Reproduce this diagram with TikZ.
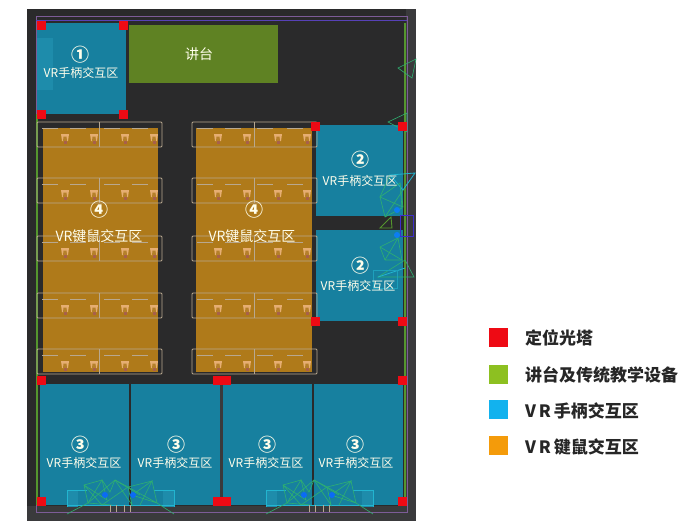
\documentclass[tikz,border=0pt]{standalone}
\usepackage{fontspec}
\setmainfont{Noto Sans CJK SC}
\begin{document}
\begin{tikzpicture}[
    x=1pt,y=-1pt,
    hall/.style={fill=hallgray},
    vrzone/.style={fill=zoneblue},
    kbzone/.style={fill=zoneorange},
    stagezone/.style={fill=stagegreen},
    tower/.style={fill=towerred},
    deskrow/.style={draw=deskline,rounded corners=1pt,line width=0.8pt},
    wire/.style={draw=wiregreen,line width=0.6pt},
    wirecyan/.style={draw=wirecyan,line width=0.8pt},
    numtext/.style={text=white!92!yellow,font=\bfseries\fontsize{18}{20}\selectfont,inner sep=0pt},
    zonetext/.style={text=white!92!yellow,font=\fontsize{12}{14}\selectfont,inner sep=0pt},
    bigtext/.style={text=white!92!yellow,font=\fontsize{14}{16}\selectfont,inner sep=0pt},
    legendtext/.style={anchor=west,text=black!85,font=\bfseries\fontsize{17}{20}\selectfont,inner sep=0pt},
    chair/.pic={
      \fill[chairtone] (-4,-5) -- (4,-5) -- (3,2) -- (-3,2) -- cycle;
      \fill[kbdark] (-1.5,-2.5) -- (1.5,-2.5) -- (2,2) -- (-2,2) -- cycle;
      \fill[chairred] (-1.5,2) rectangle (1.5,5);
    }]
    \definecolor{hallgray}{HTML}{2A2A2B}
    \definecolor{bandgray}{HTML}{3A3A3C}
    \definecolor{zoneblue}{HTML}{17809F}
    \definecolor{ghostblue}{HTML}{1E8CAB}
    \definecolor{zoneorange}{HTML}{AF7A1A}
    \definecolor{kbdark}{HTML}{B5802A}
    \definecolor{stagegreen}{HTML}{5F8223}
    \definecolor{towerred}{HTML}{EE0A14}
    \definecolor{deskline}{HTML}{B8A890}
    \definecolor{chairtone}{HTML}{E6AE72}
    \definecolor{chairred}{HTML}{A8604A}
    \definecolor{wiregreen}{HTML}{2FB070}
    \definecolor{wirecyan}{HTML}{22B5D0}
    \definecolor{outlinepurple}{HTML}{7D5C98}
    \definecolor{wallgreen}{HTML}{55962E}
    \definecolor{legendgreen}{HTML}{8DC021}
    \definecolor{legendblue}{HTML}{12B2EE}
    \definecolor{legendorange}{HTML}{F49B0A}
    \useasboundingbox (0,0) rectangle (700,530);
    % hall floor
    \fill[bandgray] (27,9) rectangle (416,521);
    \fill[hall] (27,9) rectangle (406,506);
    % outlines
    \draw[outlinepurple,line width=0.8pt] (36,16) rectangle (407,512);
    \draw[outlinepurple!70!blue,line width=0.8pt] (36,20) -- (407,20);
    % zones
    \fill[vrzone] (37,23) rectangle (126,114);
    \fill[ghostblue] (37,38) rectangle (53,90);
    \fill[stagezone] (129,25) rectangle (278,83);
    \fill[kbzone] (43,128) rectangle (158,372);
    \fill[kbzone] (196,128) rectangle (312,372);
    \fill[vrzone] (316,125) rectangle (403,216);
    \fill[vrzone] (316,230) rectangle (403,321);
    \fill[vrzone] (40,384) rectangle (129,505);
    \fill[vrzone] (131,384) rectangle (220,505);
    \fill[vrzone] (223,384) rectangle (312,505);
    \fill[vrzone] (314,384) rectangle (403,505);
    \fill[bandgray] (220,384) rectangle (223,505);
    % side walls
    \draw[wallgreen,line width=1.5pt] (37,114) -- (37,505);
    \draw[wallgreen,line width=2pt] (405,23) -- (405,505);
    % desk rows
    \foreach \rowtop in {122,178,236,293,349} {
      \draw[deskrow] (37,\rowtop) rectangle (162,\rowtop+25);
      \draw[deskrow] (99,\rowtop) -- (99,\rowtop+25);
      \draw[deskrow] (192,\rowtop) rectangle (317,\rowtop+25);
      \draw[deskrow] (254,\rowtop) -- (254,\rowtop+25);
      \foreach \chairx in {65,94,125,154,218,247,278,307}
        \pic at (\chairx,\rowtop+17) {chair};
      \foreach \deskx in {50,78,112,140,205,233,265,295}
        \draw[deskline,line width=1.2pt] (\deskx-8,\rowtop+6.5) -- (\deskx+8,\rowtop+6.5);
    }
    % cameras on the right wall
    \draw[wire] (416,59) -- (398,68) -- (412,78) -- cycle;
    \draw[wire] (407,113) -- (388,122) -- (407,132) -- cycle;
    \draw[wirecyan] (415,173) -- (390,175) -- (403,190) -- cycle;
    \draw[wire] (380,197) -- (400,183) -- (403,207) -- cycle;
    \draw[wire] (380,197) -- (385,217) -- (402,208) -- (400,183);
    \draw[wire] (390,175) -- (380,197) (403,190) -- (385,217);
    \draw[wallgreen,line width=0.9pt] (380,228) -- (391,217) -- (392,228) -- cycle;
    \draw[wire] (380,247) -- (398,238) -- (402,260) -- (385,260) -- cycle;
    \draw[wire] (380,247) -- (402,260) (398,238) -- (385,260);
    \draw[wire] (378,277) -- (405,260) -- (414,277) -- cycle;
    \draw[wirecyan] (378,277) -- (405,268);
    \draw[wirecyan!60!zoneblue,line width=0.5pt] (373,270) rectangle (397,288);
    \draw[outlinepurple!50!blue,line width=0.5pt] (400,215) rectangle (413,236);
    \fill[legendblue!70!blue] (397,210) circle (3);
    \fill[legendblue!70!blue] (397,235) circle (3);
    % cameras on the back wall
    \foreach \shiftx in {0,199} {
      \begin{scope}[xshift=\shiftx]
        \fill[ghostblue] (67,490) rectangle (78,507);
        \fill[ghostblue] (163,490) rectangle (174,507);
        \draw[wirecyan] (67,507) -- (67,490) -- (87,490);
        \draw[wirecyan] (174,507) -- (174,490) -- (154,490);
        \draw[wirecyan] (67,505) -- (174,505);
        \draw[wire] (67,514) -- (88,503) -- (84,485) -- (102,480) -- (110,492) -- (115,480) -- (128,487) -- (152,481) -- (157,503) -- (174,514);
        \draw[wire] (88,503) -- (115,480) -- (132,505) -- (128,487) -- (102,505) -- (84,485);
        \draw[wire] (84,485) -- (107,500) -- (102,480) -- (88,503);
        \draw[wire] (128,487) -- (157,503) -- (132,495) -- (152,481) -- (140,505);
        \draw[wire] (88,503) -- (112,505) (115,480) -- (140,495);
        \fill[legendblue!60!blue] (105,495) circle (3);
        \fill[legendblue!60!blue] (133,495) circle (3);
        \draw[deskline,line width=0.4pt] (110,505) -- (110,512) (116,505) -- (116,512) (124,505) -- (124,512) (130,505) -- (130,512);
      \end{scope}
    }
    % positioning towers
    \foreach \towerx/\towery in {41/25,123/25,41/114,123/114,315/126,402/126,315/321,402/321,41/380,217/380,226/380,402/380,41/501,217/501,226/501,402/501}
      \fill[tower] (\towerx-4.5,\towery-4.5) rectangle (\towerx+4.5,\towery+4.5);
    % labels
    \node[numtext] (numa) at (80,55) {①};
    \node[zonetext] (vra) at (81,73) {VR手柄交互区};
    \node[bigtext] (stage) at (199,54) {讲台};
    \node[numtext] (numb) at (360,160) {②};
    \node[zonetext] (vrb) at (360,181) {VR手柄交互区};
    \node[numtext] (numc) at (360,266) {②};
    \node[zonetext] (vrc) at (358,286) {VR手柄交互区};
    \node[numtext] (numd) at (80,445) {③};
    \node[zonetext] (vrd) at (84,463) {VR手柄交互区};
    \node[numtext] (nume) at (176,445) {③};
    \node[zonetext] (vre) at (175,463) {VR手柄交互区};
    \node[numtext] (numf) at (267,445) {③};
    \node[zonetext] (vrf) at (266,463) {VR手柄交互区};
    \node[numtext] (numg) at (355,445) {③};
    \node[zonetext] (vrg) at (356,463) {VR手柄交互区};
    \node[numtext] (numh) at (99,210) {④};
    \node[bigtext] (kba) at (99,236) {VR键鼠交互区};
    \node[numtext] (numi) at (254,210) {④};
    \node[bigtext] (kbb) at (252,236) {VR键鼠交互区};
    % legend
    \fill[towerred] (489,328) rectangle (508,347);
    \fill[legendgreen] (489,365) rectangle (508,384);
    \fill[legendblue] (489,400) rectangle (508,419);
    \fill[legendorange] (489,436) rectangle (508,455);
    \node[legendtext] (lega) at (525,338) {定位光塔};
    \node[legendtext] (legb) at (525,375) {讲台及传统教学设备};
    \node[legendtext] (legc) at (525,411) {V\,R\,手柄交互区};
    \node[legendtext] (legd) at (525,447) {V\,R\,键鼠交互区};
\end{tikzpicture}
\end{document}
